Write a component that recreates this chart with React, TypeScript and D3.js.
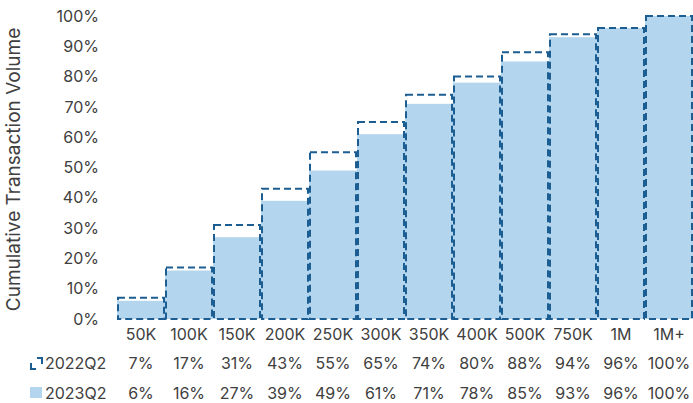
import { useEffect, useRef } from "react";
import * as d3 from "d3";

const WIDTH = 693;
const HEIGHT = 403;
const MARGINS = {
  LEFT: 117,
  RIGHT: 0,
  TOP: 16,
  BOTTOM: 84,
};

const categories = ["50K", "100K", "150K", "200K", "250K", "300K", "350K", "400K", "500K", "750K", "1M", "1M+"];
const values2022 = [7, 17, 31, 43, 55, 65, 74, 80, 88, 94, 96, 100];
const values2023 = [6, 16, 27, 39, 49, 61, 71, 78, 85, 93, 96, 100];
const yTicks = [0, 10, 20, 30, 40, 50, 60, 70, 80, 90, 100];
const seriesNames = ["2022Q2", "2023Q2"];

const FILL = "#b3d5ed";
const STROKE = "#1d5e92";
const TEXT = "#404040";
const FONT = "Inter, 'Open Sans', sans-serif";

const App = () => {
  const svgRef = useRef<SVGSVGElement | null>(null);

  useEffect(() => {
    const svg = d3.select(svgRef.current);
    svg.selectAll("*").remove();

    const x = d3
      .scaleBand<string>()
      .domain(categories)
      .range([MARGINS.LEFT, WIDTH - MARGINS.RIGHT])
      .padding(0);
    const y = d3
      .scaleLinear()
      .domain([0, 100])
      .range([HEIGHT - MARGINS.BOTTOM, MARGINS.TOP]);

    const g = svg.append("g").attr("font-family", FONT).attr("fill", TEXT);

    // 2023 bars (filled)
    g.selectAll(".bar23")
      .data(categories)
      .join("rect")
      .attr("class", "bar23")
      .attr("x", (d) => x(d)!)
      .attr("y", (_, i) => y(values2023[i]))
      .attr("width", x.bandwidth())
      .attr("height", (_, i) => y(0) - y(values2023[i]))
      .attr("fill", FILL);

    // 2022 outlines (dashed)
    g.selectAll(".bar22")
      .data(categories)
      .join("rect")
      .attr("class", "bar22")
      .attr("x", (d) => x(d)! + 1)
      .attr("y", (_, i) => y(values2022[i]))
      .attr("width", x.bandwidth() - 2)
      .attr("height", (_, i) => y(0) - y(values2022[i]))
      .attr("fill", "none")
      .attr("stroke", STROKE)
      .attr("stroke-width", 2)
      .attr("stroke-dasharray", "7,4");

    // y axis labels
    g.selectAll(".ytick")
      .data(yTicks)
      .join("text")
      .attr("class", "ytick")
      .attr("x", 99)
      .attr("y", (d) => y(d))
      .attr("dy", "0.35em")
      .attr("text-anchor", "end")
      .attr("font-size", 16)
      .text((d) => `${d}%`);

    // y title
    g.append("text")
      .attr("transform", `translate(20, ${(y(0) + y(100)) / 2 + 2}) rotate(-90)`)
      .attr("text-anchor", "middle")
      .attr("font-size", 19)
      .text("Cumulative Transaction Volume");

    // x labels
    g.selectAll(".xlabel")
      .data(categories)
      .join("text")
      .attr("class", "xlabel")
      .attr("x", (d) => x(d)! + x.bandwidth() / 2)
      .attr("y", 334)
      .attr("dy", "0.35em")
      .attr("text-anchor", "middle")
      .attr("font-size", 16)
      .text((d) => d);

    // data table rows
    const rows = [
      { name: seriesNames[0], values: values2022, cy: 363 },
      { name: seriesNames[1], values: values2023, cy: 393 },
    ];

    rows.forEach((row, r) => {
      g.selectAll(`.cell-${r}`)
        .data(categories)
        .join("text")
        .attr("class", `cell-${r}`)
        .attr("x", (d) => x(d)! + x.bandwidth() / 2)
        .attr("y", row.cy)
        .attr("dy", "0.35em")
        .attr("text-anchor", "middle")
        .attr("font-size", 16)
        .text((_, i) => `${row.values[i]}%`);

      g.append("text")
        .attr("x", 45)
        .attr("y", row.cy)
        .attr("dy", "0.35em")
        .attr("font-size", 16)
        .text(row.name);
    });

    // legend keys
    g.append("path")
      .attr("d", "M31,363 V369 H36 M37,358 H42 V364")
      .attr("fill", "none")
      .attr("stroke", STROKE)
      .attr("stroke-width", 2);
    g.append("rect")
      .attr("x", 30)
      .attr("y", 387)
      .attr("width", 12)
      .attr("height", 11)
      .attr("fill", FILL);
  }, []);

  return (
    <div style={{ position: "absolute", left: 0, top: 0 }}>
      <svg ref={svgRef} width={WIDTH} height={HEIGHT} style={{ display: "block", background: "#fff" }} />
    </div>
  );
};

export default App;
